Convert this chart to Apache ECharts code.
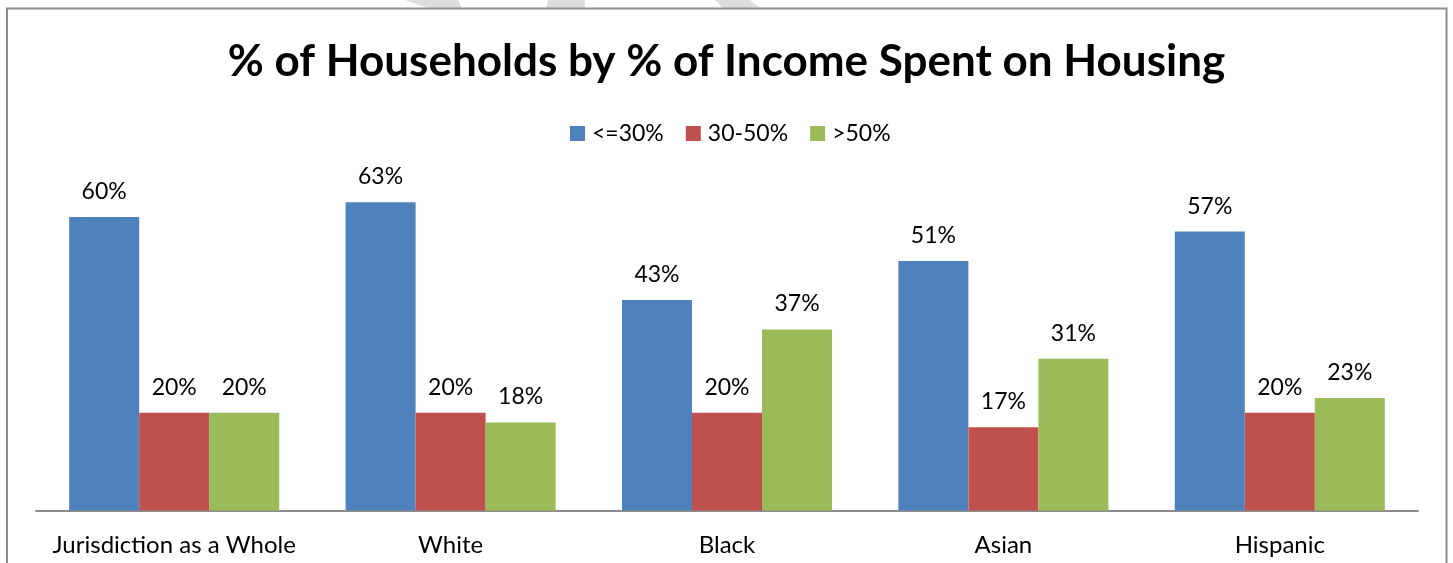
<!DOCTYPE html>
<html>
<head>
<meta charset="utf-8">
<script src="https://cdn.jsdelivr.net/npm/echarts@6/dist/echarts.min.js"></script>
<style>
  html, body { margin: 0; padding: 0; background: #fff; }
  #chart { width: 1453px; height: 563px; }
</style>
</head>
<body>
<div id="chart"></div>
<script>
// Share of households by housing cost burden, by group (percent)
const categories = ['Jurisdiction as a Whole', 'White', 'Black', 'Asian', 'Hispanic'];
const seriesNames = ['<=30%', '30-50%', '>50%'];
const under30 = [60, 63, 43, 51, 57];
const from30to50 = [20, 20, 20, 17, 20];
const over50 = [20, 18, 37, 31, 23];
const colors = ['#4f81bd', '#c0504d', '#9bbb59'];

const FONT = 'Lato, "Open Sans", sans-serif';

const chart = echarts.init(document.getElementById('chart'), null, { renderer: 'canvas' });

function barSeries(name, data, color) {
  return {
    name: name,
    type: 'bar',
    data: data,
    barGap: '0%',
    barCategoryGap: '24%',
    itemStyle: { color: color },
    label: {
      show: true,
      position: 'top',
      distance: 14,
      formatter: '{c}%',
      fontFamily: FONT,
      fontSize: 23,
      color: '#000'
    }
  };
}

chart.setOption({
  animation: false,
  backgroundColor: '#fff',
  title: {
    text: '% of Households by % of Income Spent on Housing',
    left: 'center',
    top: 35,
    textStyle: { fontFamily: FONT, fontWeight: 'bold', fontSize: 44, color: '#000' }
  },
  legend: {
    data: seriesNames,
    left: 565,
    top: 117,
    itemWidth: 15,
    itemHeight: 15,
    itemGap: 22,
    icon: 'rect',
    textStyle: { fontFamily: FONT, fontSize: 23, color: '#000', padding: [0, 0, 0, 2] }
  },
  grid: { left: 36, right: 35, top: 168, bottom: 52.5, containLabel: false },
  xAxis: {
    type: 'category',
    data: categories,
    axisLine: { show: true, lineStyle: { color: '#8c8c8c', width: 2 } },
    axisTick: { show: false },
    axisLabel: { interval: 0, fontFamily: FONT, fontSize: 24, color: '#000', margin: 23 }
  },
  yAxis: {
    type: 'value',
    min: 0,
    max: 70,
    interval: 10,
    show: false,
    splitLine: { show: false }
  },
  series: [
    barSeries(seriesNames[0], under30, colors[0]),
    barSeries(seriesNames[1], from30to50, colors[1]),
    barSeries(seriesNames[2], over50, colors[2])
  ],
  graphic: [
    // faint strokes of a background watermark above the frame
    { type: 'polygon', silent: true, z: 0, shape: { points: [[405, 0], [458, 0], [462, 8], [428, 8]] }, style: { fill: '#dedede' } },
    { type: 'polygon', silent: true, z: 0, shape: { points: [[548, 0], [585, 0], [585, 8], [546, 8]] }, style: { fill: '#dedede' } },
    { type: 'polygon', silent: true, z: 0, shape: { points: [[715, 0], [750, 0], [760, 8], [723, 8]] }, style: { fill: '#dedede' } },
    // outer frame
    { type: 'rect', silent: true, z: 1, shape: { x: 7, y: 8.5, width: 1439.5, height: 600 }, style: { fill: 'none', stroke: '#8c8c8c', lineWidth: 2 } }
  ]
});
</script>
</body>
</html>
